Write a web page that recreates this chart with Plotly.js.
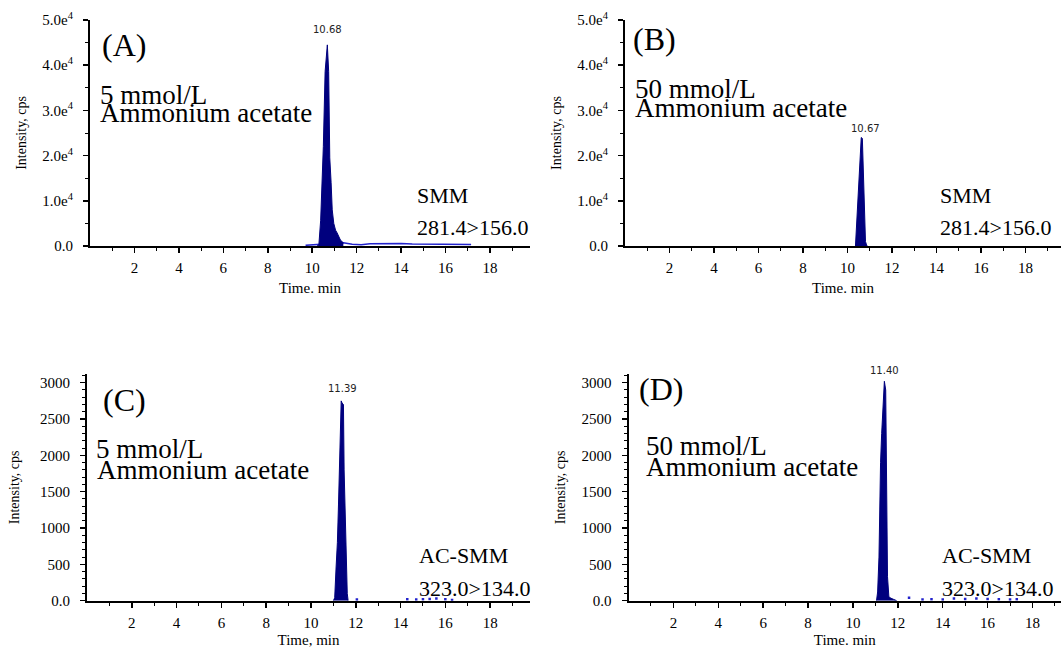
<!DOCTYPE html>
<html>
<head>
<meta charset="utf-8">
<script src="https://cdn.plot.ly/plotly-3.0.1.min.js"></script>
<style>html,body{margin:0;padding:0;background:#fff;}#chart{width:1061px;height:648px;}</style>
</head>
<body>
<div id="chart"></div>
<script>
// ---------- data ----------
// Panel A: SMM 281.4>156.0, 5 mmol/L ammonium acetate
const timeA = [10.22, 10.30, 10.38, 10.44, 10.50, 10.58, 10.63, 10.68, 10.74, 10.79, 10.85, 10.90, 10.97, 11.05, 11.12, 11.27, 11.40];
const intA  = [0, 300, 5700, 13900, 22000, 38600, 41000, 44500, 38600, 19500, 14000, 8000, 5000, 3500, 2900, 1300, 700];
const timeAnoise = [9.70, 9.90, 10.10, 10.22, 11.40, 11.80, 12.20, 12.60, 13.00, 13.50, 14.00, 14.50, 15.00, 15.50, 16.00, 16.50, 17.15];
const intAnoise  = [150, 200, 250, 300, 700, 400, 300, 500, 550, 500, 550, 450, 400, 400, 400, 400, 350];
// Panel B: SMM 281.4>156.0, 50 mmol/L ammonium acetate
const timeB = [10.36, 10.40, 10.45, 10.50, 10.56, 10.62, 10.67, 10.72, 10.76, 10.81, 10.86, 10.89];
const intB  = [0, 3800, 10200, 14700, 20000, 24000, 23800, 15600, 5000, 1000, 200, 0];
// Panel C: AC-SMM 323.0>134.0, 5 mmol/L ammonium acetate
const timeC = [11.00, 11.06, 11.12, 11.18, 11.23, 11.29, 11.35, 11.39, 11.45, 11.48, 11.52, 11.57, 11.62, 11.66];
const intC  = [0, 40, 450, 800, 1330, 2030, 2750, 2720, 2700, 1800, 1210, 500, 100, 0];
const timeCnoise = [12.05, 14.30, 14.70, 15.00, 15.30, 15.60, 16.00, 16.30];
const intCnoise  = [15, 20, 15, 20, 25, 30, 20, 10];
// Panel D: AC-SMM 323.0>134.0, 50 mmol/L ammonium acetate
const timeD = [11.05, 11.10, 11.16, 11.19, 11.23, 11.28, 11.34, 11.40, 11.46, 11.49, 11.54, 11.60, 11.65, 11.80, 11.95];
const intD  = [0, 120, 600, 1470, 1900, 2300, 2800, 3020, 2900, 1360, 330, 60, 40, 20, 0];
const timeDnoise = [12.50, 13.10, 13.50, 14.00, 14.50, 15.00, 15.50, 16.00, 16.50, 17.00, 17.30];
const intDnoise  = [40, 15, 20, 15, 30, 25, 30, 25, 20, 15, 20];

// tick labels
const xTickVals = [2, 4, 6, 8, 10, 12, 14, 16, 18];
const xMinorVals = [1, 3, 5, 7, 9, 11, 13, 15, 17, 19];
const yTickValsAB = [0, 10000, 20000, 30000, 40000, 50000];
const yTickTextAB = ['0.0', '1.0e<sup>4</sup>', '2.0e<sup>4</sup>', '3.0e<sup>4</sup>', '4.0e<sup>4</sup>', '5.0e<sup>4</sup>'];
const yMinorAB = [5000, 15000, 25000, 35000, 45000];
const yTickValsCD = [0, 500, 1000, 1500, 2000, 2500, 3000];
const yTickTextCD = ['0.0', '500', '1000', '1500', '2000', '2500', '3000'];
const yMinorCD = [];
for (let v = 100; v <= 3100; v += 100) { if (v % 500 !== 0) yMinorCD.push(v); }

const panelLetters = ['(A)', '(B)', '(C)', '(D)'];
const concLine1 = ['5 mmol/L', '50 mmol/L', '5 mmol/L', '50 mmol/L'];
const concLine2 = 'Ammonium acetate';
const analyte = ['SMM', 'SMM', 'AC-SMM', 'AC-SMM'];
const transition = ['281.4>156.0', '281.4>156.0', '323.0>134.0', '323.0>134.0'];
const peakLabels = ['10.68', '10.67', '11.39', '11.40'];
const xTitles = ['Time. min', 'Time. min', 'Time, min', 'Time. min'];
const yTitle = 'Intensity, cps';

// ---------- layout helpers ----------
const W = 1061, H = 648;
const px = (x) => x / W;
const py = (y) => 1 - y / H;
const SERIF = 'Liberation Serif';
const PEAK = '#00007e';
const NOISE = '#2222cc';

function xAxis(d0, d1, range, anchor, title, tstand) {
  return {
    domain: [px(d0), px(d1)], range: range, anchor: anchor,
    showline: true, linecolor: 'black', linewidth: 2, mirror: false,
    showgrid: false, zeroline: false,
    tickmode: 'array', tickvals: xTickVals,
    ticks: 'outside', ticklen: 5, tickwidth: 1.5, tickcolor: 'black',
    minor: { tickmode: 'array', tickvals: xMinorVals, ticks: 'outside', ticklen: 3, tickwidth: 1, tickcolor: 'black', showgrid: false },
    tickfont: { family: SERIF, size: 15, color: 'black' },
    ticklabelstandoff: 2,
    title: { text: title, font: { family: SERIF, size: 15, color: 'black' }, standoff: tstand }
  };
}
function yAxis(d0, d1, range, anchor, tv, tt, minor, tstand) {
  return {
    domain: [py(d1), py(d0)], range: range, anchor: anchor,
    showline: true, linecolor: 'black', linewidth: 2,
    showgrid: false, zeroline: false,
    tickmode: 'array', tickvals: tv, ticktext: tt,
    ticks: 'outside', ticklen: 5, tickwidth: 1.5, tickcolor: 'black',
    minor: { tickmode: 'array', tickvals: minor, ticks: 'outside', ticklen: 3, tickwidth: 1, tickcolor: 'black', showgrid: false },
    tickfont: { family: SERIF, size: 15, color: 'black' },
    ticklabelstandoff: 7,
    title: { text: yTitle, font: { family: SERIF, size: 14, color: 'black' }, standoff: tstand }
  };
}

function peakTrace(x, y, xa, ya) {
  return { x: x, y: y, xaxis: xa, yaxis: ya, type: 'scatter', mode: 'lines', fill: 'tozeroy',
           fillcolor: PEAK, line: { color: PEAK, width: 1 }, hoverinfo: 'x+y' };
}
function noiseTrace(x, y, xa, ya, mode) {
  return { x: x, y: y, xaxis: xa, yaxis: ya, type: 'scatter', mode: mode,
           line: { color: NOISE, width: 1.5 }, marker: { color: NOISE, size: 2.5, symbol: 'square' }, hoverinfo: 'x+y' };
}

const data = [
  noiseTrace(timeAnoise, intAnoise, 'x', 'y', 'lines'),
  peakTrace(timeA, intA, 'x', 'y'),
  peakTrace(timeB, intB, 'x2', 'y2'),
  noiseTrace(timeCnoise, intCnoise, 'x3', 'y3', 'markers'),
  peakTrace(timeC, intC, 'x3', 'y3'),
  noiseTrace(timeDnoise, intDnoise, 'x4', 'y4', 'markers'),
  peakTrace(timeD, intD, 'x4', 'y4')
];

// annotation positions (pixels)
const pos = [
  { letter: [100, 45], l1: [98, 95], l2: [98, 113], an: [415, 195], tr: [415, 227], pk: [327, 30] },
  { letter: [631, 39], l1: [633, 89], l2: [633, 108], an: [938, 195], tr: [938, 227], pk: [865, 128] },
  { letter: [101, 400], l1: [94, 449], l2: [95, 470], an: [417, 555], tr: [417, 588], pk: [342, 388] },
  { letter: [637, 389], l1: [644, 446], l2: [644, 467], an: [940, 555], tr: [940, 588], pk: [884, 370] }
];
const annotations = [];
function ann(text, xy, size, xanchor, font) {
  annotations.push({ text: text, xref: 'paper', yref: 'paper', x: px(xy[0]), y: py(xy[1]),
    xanchor: xanchor, yanchor: 'middle', showarrow: false,
    font: { family: font || SERIF, size: size, color: 'black' } });
}
for (let i = 0; i < 4; i++) {
  const p = pos[i];
  ann(panelLetters[i], p.letter, 32, 'left');
  ann(concLine1[i], p.l1, 27, 'left');
  ann(concLine2, p.l2, 27, 'left');
  ann(analyte[i], p.an, 22, 'left');
  ann(transition[i], p.tr, 22, 'left');
  annotations.push({ text: peakLabels[i], xref: 'paper', yref: 'paper', x: px(p.pk[0]), y: py(p.pk[1]),
    xanchor: 'center', yanchor: 'middle', showarrow: false,
    font: { family: 'DejaVu Sans', size: 10, color: '#222' } });
}

const layout = {
  width: W, height: H,
  margin: { l: 0, r: 0, t: 0, b: 0 },
  paper_bgcolor: 'white', plot_bgcolor: 'white',
  showlegend: false,
  xaxis:  xAxis(90, 530, [0, 19.8], 'y', xTitles[0], 7),
  yaxis:  yAxis(20, 246, [0, 50000], 'x', yTickValsAB, yTickTextAB, yMinorAB, 12),
  xaxis2: xAxis(625, 1061, [0, 19.6], 'y2', xTitles[1], 7),
  yaxis2: yAxis(20, 246, [0, 50000], 'x2', yTickValsAB, yTickTextAB, yMinorAB, 12),
  xaxis3: xAxis(87, 530, [0, 19.78], 'y3', xTitles[2], 11),
  yaxis3: yAxis(374, 600.7, [0, 3120], 'x3', yTickValsCD, yTickTextCD, yMinorCD, 17),
  xaxis4: xAxis(628.5, 1061, [0, 19.27], 'y4', xTitles[3], 11),
  yaxis4: yAxis(374, 600.7, [0, 3120], 'x4', yTickValsCD, yTickTextCD, yMinorCD, 13),
  annotations: annotations
};

Plotly.newPlot('chart', data, layout, { displayModeBar: false, staticPlot: true });
</script>
</body>
</html>
